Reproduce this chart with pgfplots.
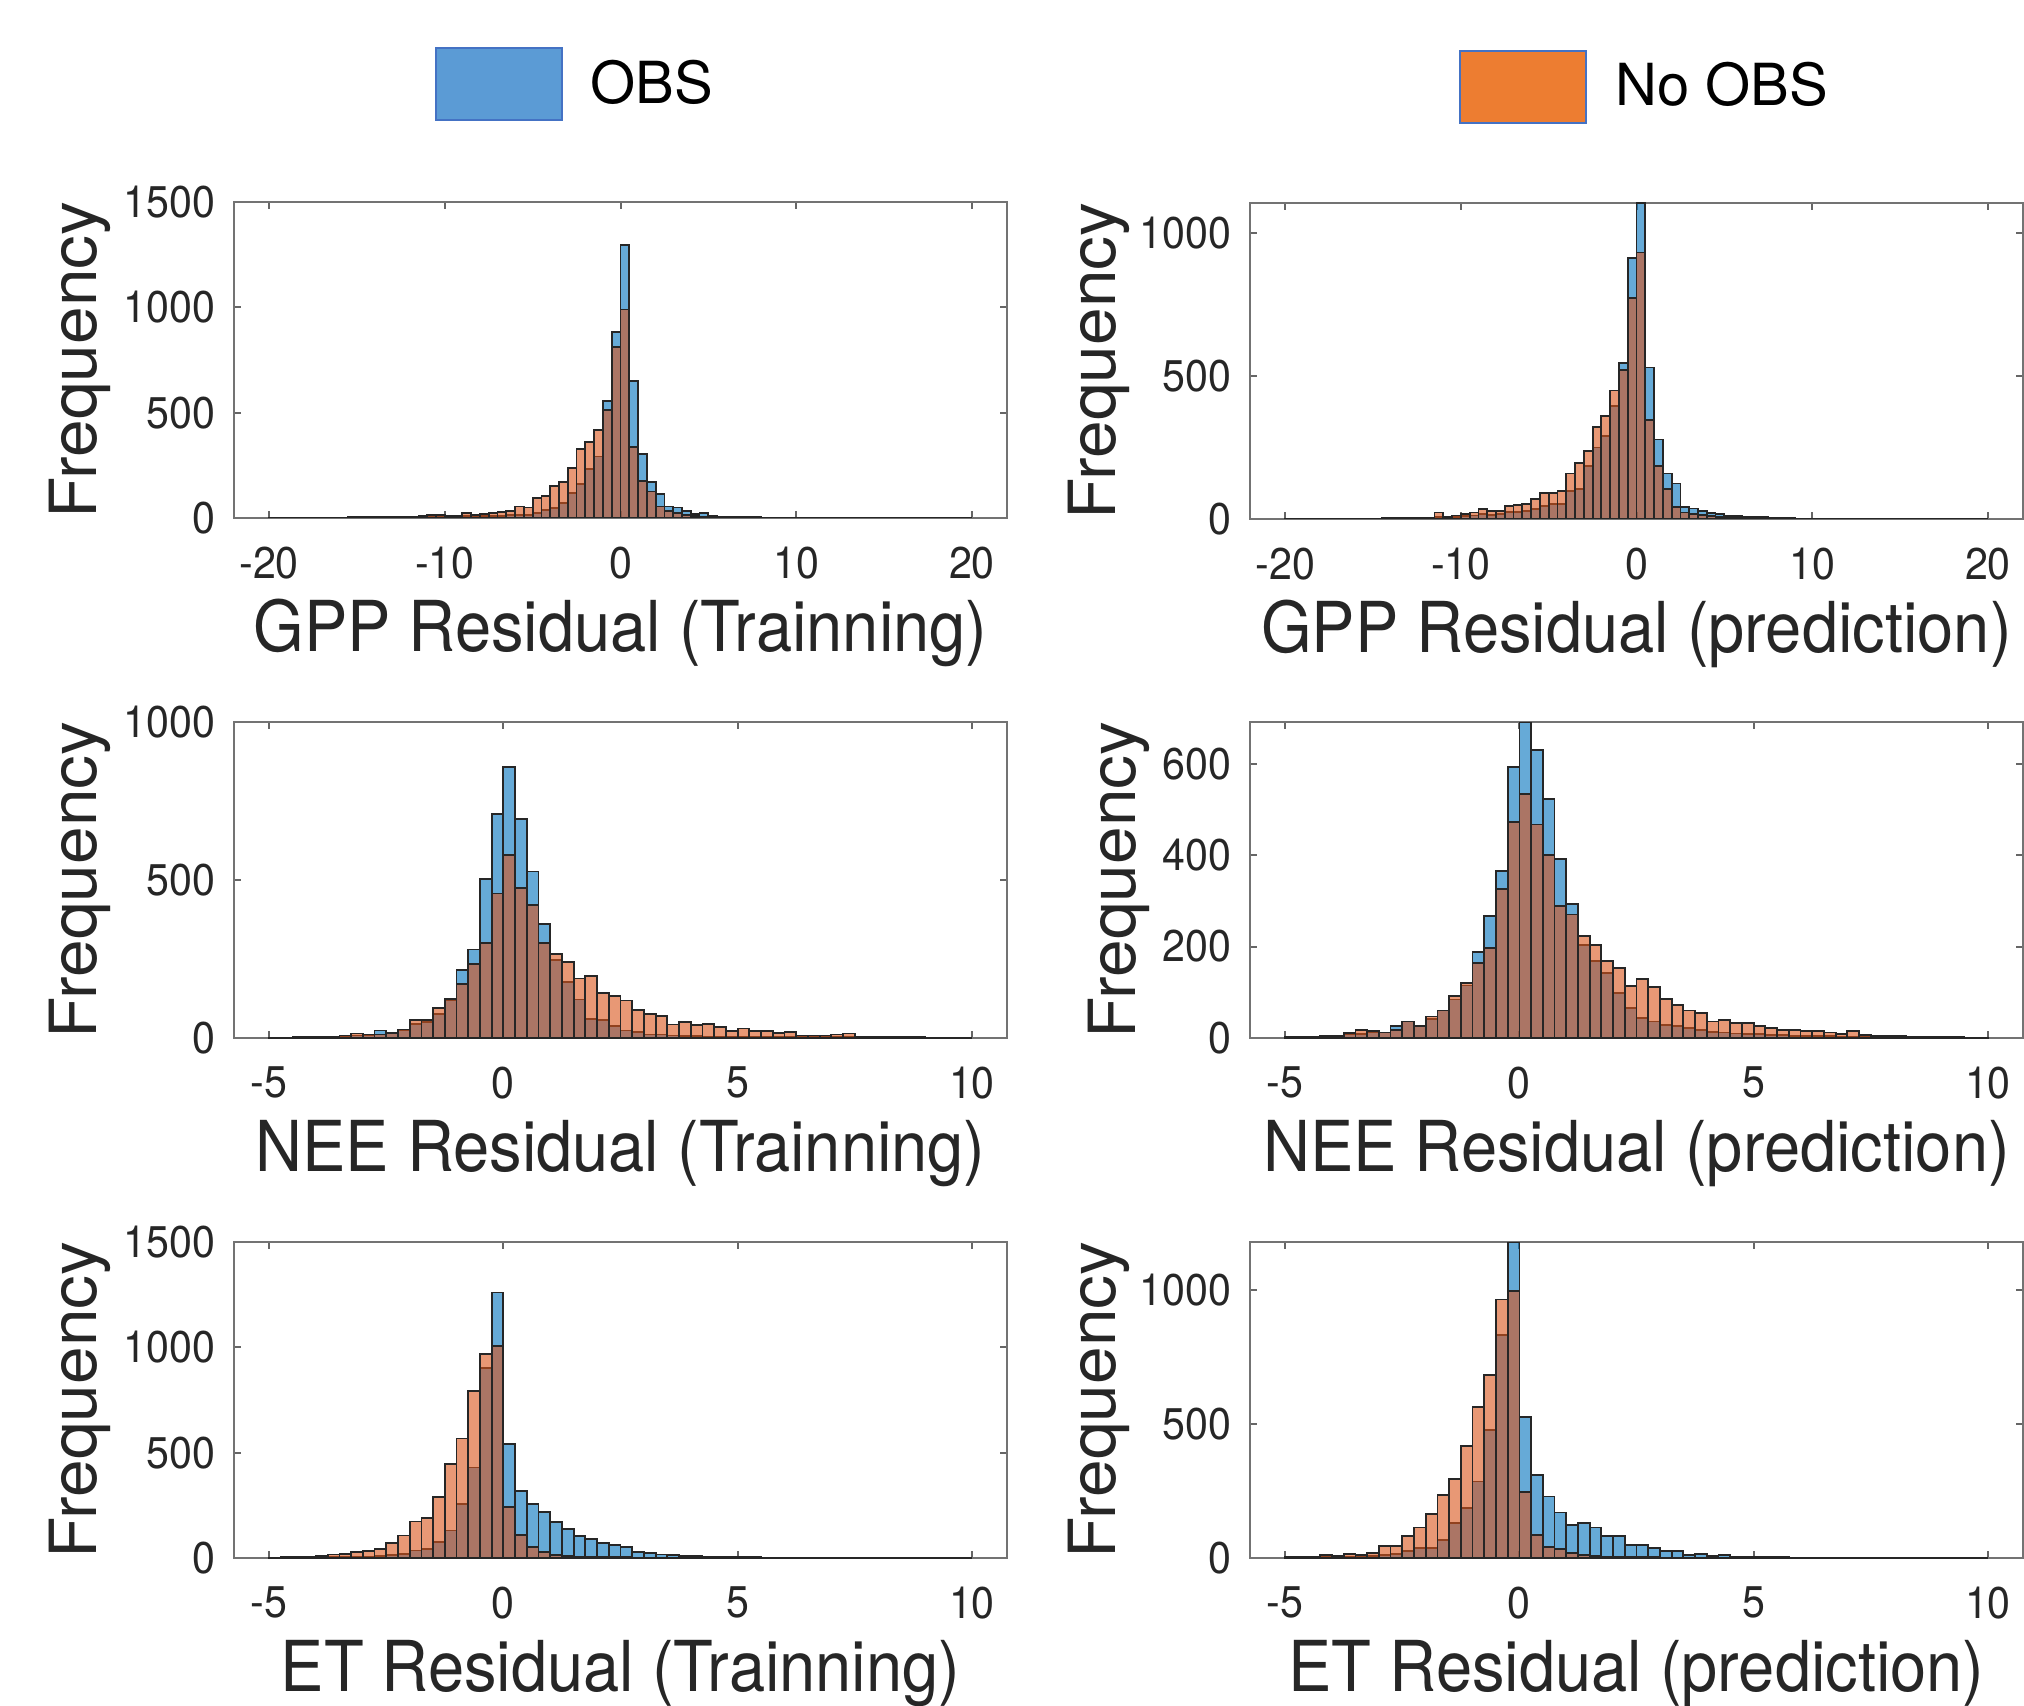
\documentclass[border=0pt]{standalone}
\usepackage{fontspec}
\setmainfont{TeX Gyre Heros}
\usepackage{pgfplots}
\usepackage{pgfplotstable}
\pgfplotsset{compat=1.18}

\definecolor{mblue}{rgb}{0,0.447,0.741}
\definecolor{morange}{rgb}{0.85,0.325,0.098}
\definecolor{legblue}{RGB}{91,155,213}
\definecolor{legorange}{RGB}{237,125,49}
\definecolor{legedge}{RGB}{68,114,196}

\newcommand\labfont{\fontsize{18.5}{22}\selectfont}
\newcommand\tickfont{\fontsize{11.7}{14}\selectfont}
\newcommand\legfont{\fontsize{16.5}{20}\selectfont}
% the source figure is slightly stretched in height
\newcommand\tall[1]{\scalebox{1}[1.08]{#1}}

%% histogram counts, bin left edge | OBS | No OBS (last row = right edge)
\pgfplotstableread{
x obs noobs
-20 1 1
-19.5 1 1
-19 1 1
-18.5 2 1
-18 1 2
-17.5 2 1
-17 2 2
-16.5 2 2
-16 2 2
-15.5 3 2
-15 3 2
-14.5 3 3
-14 4 3
-13.5 4 4
-13 5 4
-12.5 5 5
-12 6 7
-11.5 7 11
-11 8 13
-10.5 8 13
-10 9 11
-9.5 9 11
-9 11 24
-8.5 10 16
-8 8 19
-7.5 9 24
-7 11 28
-6.5 13 35
-6 16 55
-5.5 16 50
-5 24 95
-4.5 39 103
-4 47 150
-3.5 71 170
-3 118 237
-2.5 161 328
-2 233 360
-1.5 292 418
-1 555 513
-0.5 883 812
0 1297 990
0.5 650 336
1 303 177
1.5 170 126
2 115 55
2.5 55 32
3 50 24
3.5 32 13
4 19 8
4.5 22 6
5 8 3
5.5 6 2
6 5 2
6.5 4 1
7 3 1
7.5 3 1
8 2 1
8.5 2 1
9 2 1
9.5 1 1
10 1 0
10.5 1 1
11 1 0
11.5 1 0
12 1 0
12.5 0 1
13 1 0
13.5 0 0
14 1 0
14.5 0 0
15 1 1
15.5 0 0
16 1 0
16.5 0 0
17 1 0
17.5 0 0
18 1 0
18.5 0 0
19 1 0
19.5 0 0
20 0 0
}\gpptrain

\pgfplotstableread{
x obs noobs
-20 1 1
-19.5 1 1
-19 1 1
-18.5 1 1
-18 2 1
-17.5 1 2
-17 2 1
-16.5 1 2
-16 2 2
-15.5 2 2
-15 2 2
-14.5 2 3
-14 3 3
-13.5 3 3
-13 3 4
-12.5 3 4
-12 4 5
-11.5 8 23
-11 6 6
-10.5 8 12
-10 10 17
-9.5 12 23
-9 18 35
-8.5 15 29
-8 17 29
-7.5 25 46
-7 25 49
-6.5 29 52
-6 35 69
-5.5 46 90
-5 52 90
-4.5 52 98
-4 98 159
-3.5 104 197
-3 185 237
-2.5 250 322
-2 289 359
-1.5 394 449
-1 546 521
-0.5 914 773
0 1105 932
0.5 530 347
1 278 185
1.5 159 104
2 124 41
2.5 41 23
3 37 17
3.5 29 14
4 21 10
4.5 17 8
5 12 6
5.5 10 5
6 8 4
6.5 6 3
7 8 2
7.5 5 2
8 4 2
8.5 3 1
9 2 1
9.5 2 1
10 1 1
10.5 1 0
11 1 1
11.5 1 0
12 1 0
12.5 1 0
13 0 1
13.5 1 0
14 0 0
14.5 1 0
15 0 0
15.5 1 0
16 0 1
16.5 1 0
17 0 0
17.5 1 0
18 0 0
18.5 1 0
19 0 0
19.5 0 0
20 0 0
}\gpppred

\pgfplotstableread{
x obs noobs
-5 1 1
-4.75 1 1
-4.5 2 1
-4.25 3 2
-4 3 3
-3.75 4 3
-3.5 5 8
-3.25 8 14
-3 8 11
-2.75 24 11
-2.5 14 17
-2.25 25 27
-2 45 56
-1.75 51 58
-1.5 77 95
-1.25 120 124
-1 214 172
-0.75 280 235
-0.5 504 301
-0.25 710 457
0 858 578
0.25 694 475
0.5 527 422
0.75 360 301
1 246 267
1.25 177 240
1.5 122 188
1.75 59 196
2 56 142
2.25 38 132
2.5 24 119
2.75 19 88
3 11 77
3.25 11 69
3.5 8 43
3.75 7 51
4 6 40
4.25 5 45
4.5 5 35
4.75 4 21
5 4 30
5.25 3 21
5.5 3 21
5.75 3 16
6 2 19
6.25 2 8
6.5 2 8
6.75 2 8
7 2 11
7.25 2 14
7.5 1 3
7.75 1 3
8 1 2
8.25 1 2
8.5 1 3
8.75 0 2
9 1 1
9.25 0 1
9.5 0 1
9.75 0 0
10 0 0
}\neetrain

\pgfplotstableread{
x obs noobs
-5 2 2
-4.75 3 2
-4.5 3 2
-4.25 4 3
-4 5 5
-3.75 9 11
-3.5 9 17
-3.25 12 15
-3 12 12
-2.75 26 17
-2.5 36 36
-2.25 27 27
-2 42 47
-1.75 60 60
-1.5 84 91
-1.25 115 120
-1 188 164
-0.75 266 197
-0.5 365 325
-0.25 593 472
0 691 533
0.25 630 467
0.5 523 401
0.75 392 288
1 293 270
1.25 204 223
1.5 168 204
1.75 142 168
2 99 153
2.25 66 113
2.5 44 129
2.75 36 112
3 29 85
3.25 26 73
3.5 22 60
3.75 18 55
4 14 36
4.25 12 39
4.5 10 33
4.75 9 33
5 8 26
5.25 7 22
5.5 6 17
5.75 5 17
6 5 15
6.25 4 15
6.5 4 12
6.75 3 9
7 3 15
7.25 3 7
7.5 2 5
7.75 2 4
8 2 4
8.25 2 3
8.5 1 3
8.75 1 2
9 1 2
9.25 1 2
9.5 0 1
9.75 0 1
10 0 0
}\neepred

\pgfplotstableread{
x obs noobs
-5 0 2
-4.75 1 3
-4.5 1 4
-4.25 1 6
-4 2 9
-3.75 3 17
-3.5 4 20
-3.25 5 28
-3 6 33
-2.75 9 44
-2.5 13 72
-2.25 20 107
-2 36 173
-1.75 44 191
-1.5 76 288
-1.25 131 446
-1 257 567
-0.75 430 792
-0.5 902 969
-0.25 1260 1005
0 543 244
0.25 317 110
0.5 257 52
0.75 217 28
1 170 15
1.25 139 10
1.5 104 7
1.75 91 5
2 71 4
2.25 60 3
2.5 52 3
2.75 28 2
3 24 2
3.25 17 1
3.5 13 1
3.75 10 1
4 8 1
4.25 6 0
4.5 5 0
4.75 4 0
5 3 0
5.25 3 0
5.5 2 0
5.75 2 0
6 2 0
6.25 1 0
6.5 1 0
6.75 1 0
7 1 0
7.25 1 0
7.5 1 0
7.75 0 0
8 1 0
8.25 0 0
8.5 1 0
8.75 0 0
9 0 0
9.25 0 0
9.5 0 0
9.75 0 0
10 0 0
}\ettrain

\pgfplotstableread{
x obs noobs
-5 1 3
-4.75 2 4
-4.5 2 6
-4.25 3 12
-4 4 9
-3.75 5 16
-3.5 6 12
-3.25 8 19
-3 12 46
-2.75 15 46
-2.5 25 83
-2.25 37 114
-2 37 165
-1.75 68 236
-1.5 130 294
-1.25 186 419
-1 286 565
-0.75 478 683
-0.5 832 965
-0.25 1180 996
0 528 248
0.25 311 87
0.5 230 41
0.75 170 34
1 124 19
1.25 130 12
1.5 114 8
1.75 81 6
2 81 5
2.25 50 4
2.5 50 3
2.75 37 3
3 25 2
3.25 25 2
3.5 12 1
3.75 16 1
4 9 1
4.25 12 0
4.5 6 0
4.75 5 0
5 4 0
5.25 3 0
5.5 3 0
5.75 2 0
6 2 0
6.25 2 0
6.5 1 0
6.75 1 0
7 1 0
7.25 1 0
7.5 1 0
7.75 1 0
8 0 0
8.25 1 0
8.5 0 0
8.75 0 0
9 1 0
9.25 0 0
9.5 0 0
9.75 0 0
10 0 0
}\etpred

\pgfplotsset{
  resid/.style={
    scale only axis, width=77.3mm, height=31.6mm, anchor=south west,
    axis line style={draw=black!55, line width=0.25mm},
    tick align=inside, major tick length=0.7mm,
    tick style={draw=black!60, line width=0.2mm},
    ticklabel style={font=\tickfont, text=black!85},
    /pgf/number format/assume math mode=true,
    /pgf/number format/1000 sep={},
    xticklabel={\tall{\pgfmathprintnumber{\tick}}},
    yticklabel={\tall{\pgfmathprintnumber{\tick}}},
    xticklabel style={inner sep=0pt, anchor=north, yshift=-2.8mm},
    yticklabel style={inner sep=0pt, anchor=east, xshift=-1.8mm},
    xlabel style={font=\labfont, text=black!85, inner sep=0pt, anchor=base,
                  at={(axis description cs:0.5,-0.422)}},
    ylabel style={font=\labfont, text=black!85, inner sep=0pt, anchor=center},
    ylabel={\scalebox{1.04}[1]{Frequency}},
    ymin=0,
  },
  gpp/.style={xmin=-22, xmax=22, xtick={-20,-10,0,10,20}},
  nee/.style={xmin=-5.75, xmax=10.75, xtick={-5,0,5,10}},
  obsbar/.style={ybar interval, fill=mblue, fill opacity=0.6,
                 draw=black!85, line width=0.18mm},
  nobsbar/.style={ybar interval, fill=morange, fill opacity=0.6,
                  draw=black!85, line width=0.18mm},
  patchleg/.style={
    legend style={draw=none, fill=none, inner sep=0pt, font=\legfont,
                  anchor=west, /tikz/every odd column/.append style={column sep=2.1mm}},
    legend image code/.code={\draw[##1] (0mm,-3.6mm) rectangle (12.6mm,3.6mm);},
  },
}

\begin{document}
\begin{tikzpicture}
\useasboundingbox (0,0) rectangle (202.4mm,170.5mm);

% GPP, training
\begin{axis}[resid, gpp, at={(23.4mm,118.7mm)}, ymax=1500, ytick={0,500,1000,1500},
  xlabel={\tall{GPP Residual (Trainning)}},
  ylabel style={at={(axis description cs:-0.199,0.5)}},
  patchleg, legend style={at={(axis description cs:0.2587,1.373)}}]
\addlegendimage{fill=legblue, draw=legedge, line width=0.2mm}
\addlegendentry{OBS}
\addplot[obsbar] table[x=x, y=obs] {\gpptrain};
\addplot[nobsbar] table[x=x, y=noobs] {\gpptrain};
\end{axis}

% GPP, prediction
\begin{axis}[resid, gpp, at={(125.0mm,118.6mm)}, ymax=1105, ytick={0,500,1000},
  xlabel={\tall{GPP Residual (prediction)}},
  ylabel style={at={(axis description cs:-0.196,0.5)}},
  patchleg, legend style={at={(axis description cs:0.270,1.368)}}]
\addlegendimage{fill=legorange, draw=legedge, line width=0.2mm}
\addlegendentry{No OBS}
\addplot[obsbar] table[x=x, y=obs] {\gpppred};
\addplot[nobsbar] table[x=x, y=noobs] {\gpppred};
\end{axis}

% NEE, training
\begin{axis}[resid, nee, at={(23.4mm,66.7mm)}, ymax=1000, ytick={0,500,1000},
  xlabel={\tall{NEE Residual (Trainning)}},
  ylabel style={at={(axis description cs:-0.199,0.5)}}]
\addplot[obsbar] table[x=x, y=obs] {\neetrain};
\addplot[nobsbar] table[x=x, y=noobs] {\neetrain};
\end{axis}

% NEE, prediction
\begin{axis}[resid, nee, at={(125.0mm,66.7mm)}, ymax=691, ytick={0,200,400,600},
  xlabel={\tall{NEE Residual (prediction)}},
  ylabel style={at={(axis description cs:-0.170,0.5)}}]
\addplot[obsbar] table[x=x, y=obs] {\neepred};
\addplot[nobsbar] table[x=x, y=noobs] {\neepred};
\end{axis}

% ET, training
\begin{axis}[resid, nee, at={(23.4mm,14.7mm)}, ymax=1500, ytick={0,500,1000,1500},
  xlabel={\tall{ET Residual (Trainning)}},
  ylabel style={at={(axis description cs:-0.199,0.5)}}]
\addplot[obsbar] table[x=x, y=obs] {\ettrain};
\addplot[nobsbar] table[x=x, y=noobs] {\ettrain};
\end{axis}

% ET, prediction
\begin{axis}[resid, nee, at={(125.0mm,14.7mm)}, ymax=1180, ytick={0,500,1000},
  xlabel={\tall{ET Residual (prediction)}},
  ylabel style={at={(axis description cs:-0.196,0.5)}}]
\addplot[obsbar] table[x=x, y=obs] {\etpred};
\addplot[nobsbar] table[x=x, y=noobs] {\etpred};
\end{axis}
\end{tikzpicture}
\end{document}
